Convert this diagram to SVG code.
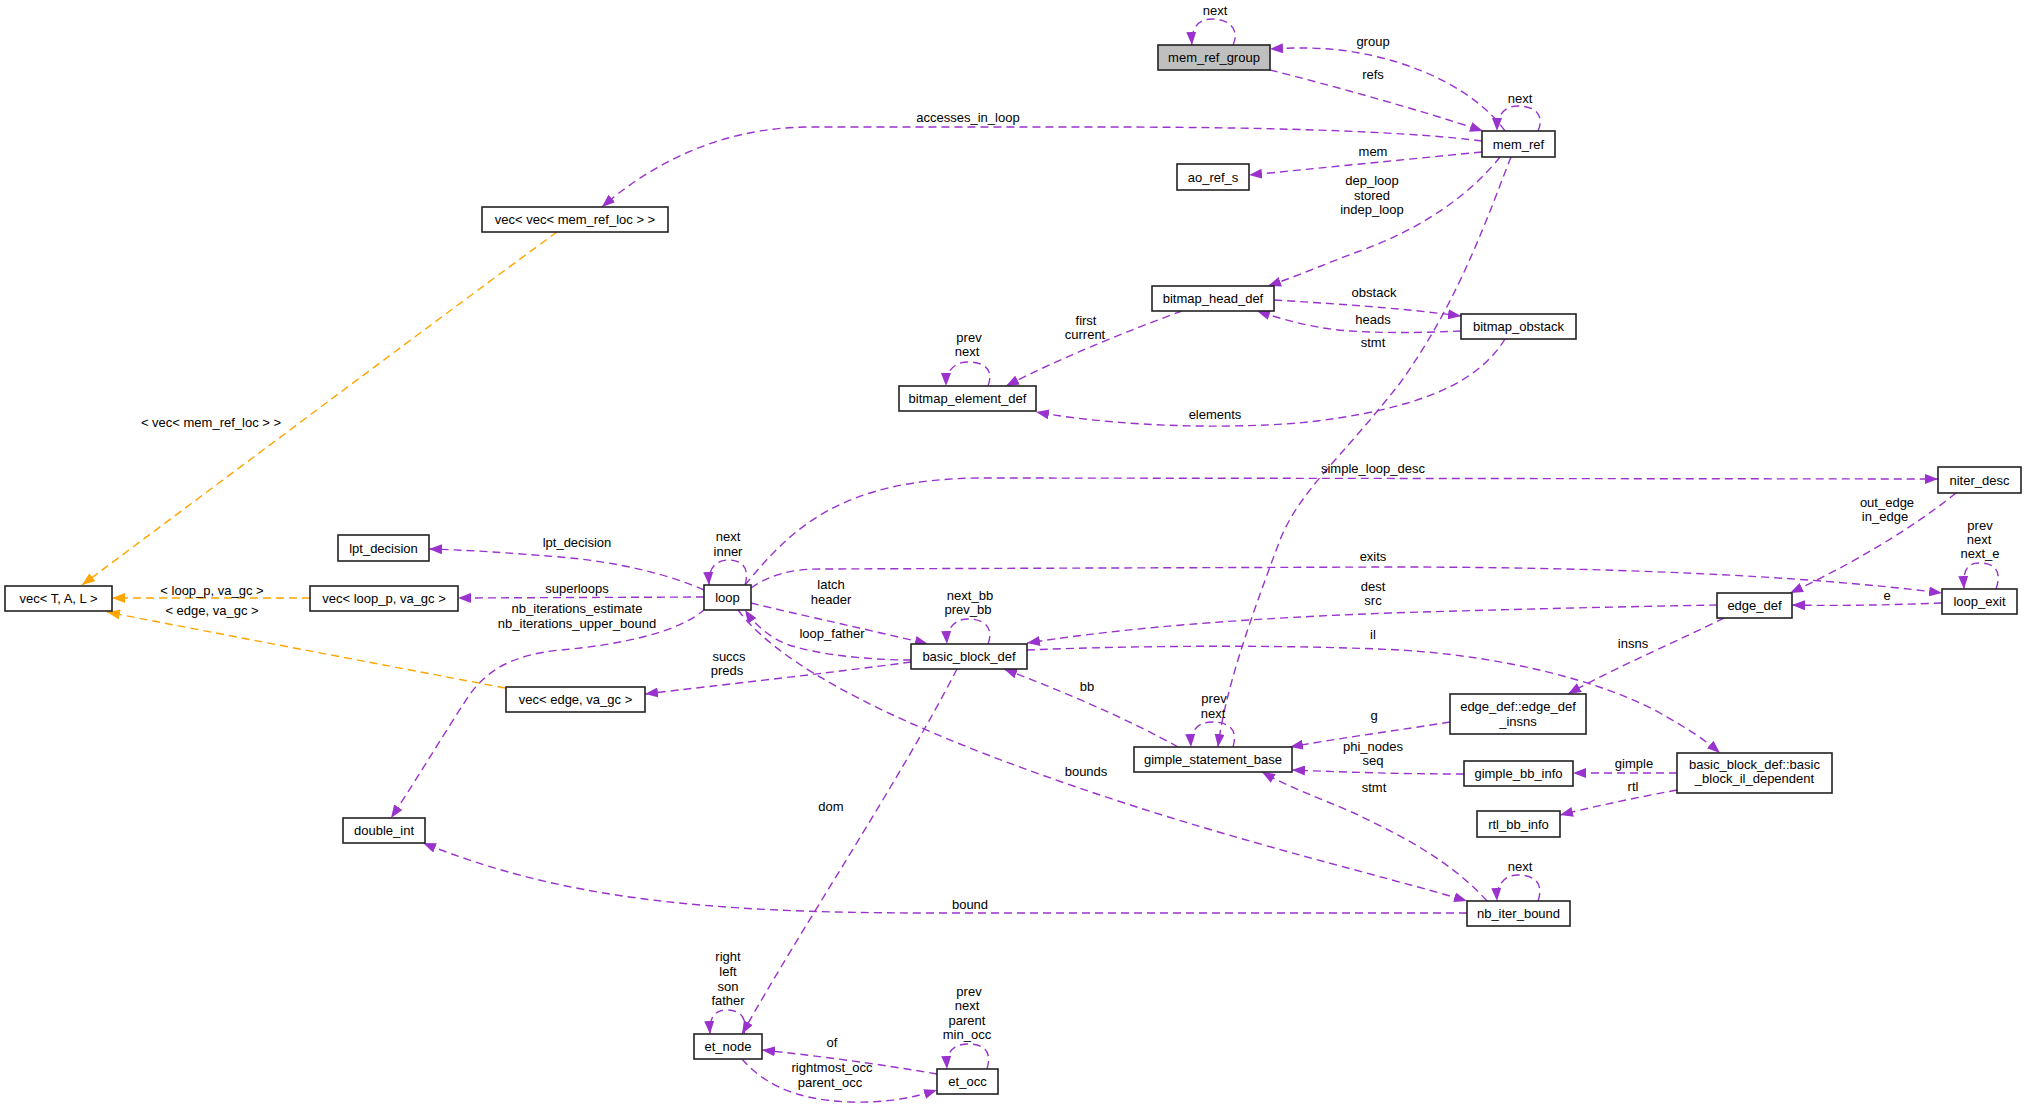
<svg xmlns="http://www.w3.org/2000/svg" width="2027" height="1107" viewBox="0 0 2027 1107">
<defs>
<style>
.node rect{fill:#fff;stroke:#222;stroke-width:1.6}
text{font-family:"Liberation Sans",Arial,Helvetica,sans-serif;font-size:13px;text-anchor:middle;fill:#000}
.e{fill:none;stroke:#9a32cd;stroke-width:1.4;stroke-dasharray:8,5;marker-end:url(#pa)}
.o{fill:none;stroke:#ffa500;stroke-width:1.4;stroke-dasharray:8,5;marker-end:url(#oa)}
</style>
<marker id="pa" viewBox="0 0 13 10" refX="13" refY="5" markerWidth="13" markerHeight="10" orient="auto" markerUnits="userSpaceOnUse"><path d="M0,0 L13,5 L0,10 z" fill="#9a32cd"/></marker>
<marker id="oa" viewBox="0 0 13 10" refX="13" refY="5" markerWidth="13" markerHeight="10" orient="auto" markerUnits="userSpaceOnUse"><path d="M0,0 L13,5 L0,10 z" fill="#ffa500"/></marker>
</defs>
<rect width="2027" height="1107" fill="#fff"/>
<g id="connectors">
<path class="e" d="M1233,45 C1240,30 1230,19 1212,19 C1198,19 1191,28 1192,45"/><text x="1215" y="15">next</text>
<path class="e" d="M1505,131 C1480,95 1420,60 1340,50 C1310,47 1290,48 1270,49"/><text x="1373" y="46">group</text>
<path class="e" d="M1270,70 C1330,85 1420,110 1483,131"/><text x="1373" y="79">refs</text>
<path class="e" d="M1538,131 C1545,115 1535,106 1518,106 C1505,106 1497,114 1497,131"/><text x="1520" y="103">next</text>
<path class="e" d="M1482,141 C1420,133 1300,127 1100,127 L810,127 C720,127 650,165 602,207"/><text x="968" y="122">accesses_in_loop</text>
<path class="e" d="M1482,152 C1400,160 1320,168 1249,175"/><text x="1373" y="156">mem</text>
<path class="e" d="M1500,157 C1470,195 1420,230 1357,252 C1330,262 1300,275 1268,286"/><text x="1372" y="185">dep_loop</text><text x="1372" y="200">stored</text><text x="1372" y="214">indep_loop</text>
<path class="e" d="M1511,157 C1490,210 1460,300 1400,383 C1340,460 1300,490 1280,540 C1250,620 1225,690 1218,747"/><text x="1373" y="347">stmt</text>
<path class="e" d="M1274,300 C1340,304 1400,308 1461,316"/><text x="1374" y="297">obstack</text>
<path class="e" d="M1461,331 C1420,333 1380,333 1350,331 C1320,329 1290,322 1257,311"/><text x="1373" y="324">heads</text>
<path class="e" d="M1182,311 C1130,330 1060,358 1006,386"/><text x="1086" y="325">first</text><text x="1085" y="339">current</text>
<path class="e" d="M988,386 C994,370 985,362 968,362 C955,362 946,370 946,386"/><text x="969" y="342">prev</text><text x="967" y="356">next</text>
<path class="e" d="M1505,339 C1480,380 1430,400 1367,413 C1320,422 1290,425 1230,426 C1150,427 1080,420 1036,412"/><text x="1215" y="419">elements</text>
<path class="e" d="M745,585 C790,530 840,479 980,478 L1938,479"/><text x="1373" y="473">simple_loop_desc</text>
<path class="e" d="M1956,493 C1910,530 1850,565 1790,593"/><text x="1887" y="507">out_edge</text><text x="1885" y="521">in_edge</text>
<path class="e" d="M1996,589 C2002,572 1996,563 1979,563 C1966,563 1963,572 1964,589"/><text x="1980" y="530">prev</text><text x="1979" y="544">next</text><text x="1980" y="558">next_e</text>
<path class="e" d="M1942,603 C1890,605 1840,606 1792,605"/><text x="1887" y="600">e</text>
<path class="e" d="M751,588 C770,575 790,569 820,569 L1390,567 C1600,567 1800,575 1942,593"/><text x="1373" y="561">exits</text>
<path class="e" d="M1717,605 C1600,607 1450,611 1390,613 C1200,620 1100,632 1027,643"/><text x="1373" y="591">dest</text><text x="1373" y="605">src</text>
<path class="e" d="M1027,650 C1150,645 1300,645 1400,650 C1500,656 1600,680 1660,713 C1690,730 1705,740 1720,753"/><text x="1373" y="639">il</text>
<path class="e" d="M988,644 C994,628 985,619 968,619 C955,619 946,628 947,644"/><text x="970" y="600">next_bb</text><text x="968" y="614">prev_bb</text>
<path class="e" d="M745,585 C750,568 742,560 729,560 C716,560 708,568 709,585"/><text x="728" y="541">next</text><text x="728" y="556">inner</text>
<path class="e" d="M751,603 C800,615 870,630 928,644"/><text x="831" y="589">latch</text><text x="831" y="604">header</text>
<path class="e" d="M911,660 C870,660 820,655 789,645 C770,638 755,625 745,610"/><text x="832" y="638">loop_father</text>
<path class="e" d="M704,590 C670,575 620,562 560,557 C510,553 470,550 429,549"/><text x="577" y="547">lpt_decision</text>
<path class="e" d="M704,597 L458,598"/><text x="577" y="593">superloops</text>
<path class="e" d="M705,609 C680,632 620,645 560,650 C510,655 485,672 468,697 C440,740 410,790 391,818"/><text x="577" y="613">nb_iterations_estimate</text><text x="577" y="628">nb_iterations_upper_bound</text>
<path class="e" d="M911,662 C830,673 720,685 645,694"/><text x="729" y="661">succs</text><text x="727" y="675">preds</text>
<path class="o" d="M310,598 L112,598"/><text x="212" y="595">&lt; loop_p, va_gc &gt;</text>
<path class="o" d="M505,688 C400,668 230,636 107,612"/><text x="212" y="615">&lt; edge, va_gc &gt;</text>
<path class="o" d="M557,232 C450,310 250,460 82,585"/><text x="211" y="427">&lt; vec&lt; mem_ref_loc &gt; &gt;</text>
<path class="e" d="M957,669 C900,780 800,930 742,1034"/><text x="831" y="811">dom</text>
<path class="e" d="M738,610 C790,680 950,745 1100,795 C1250,845 1380,875 1467,901"/><text x="1086" y="776">bounds</text>
<path class="e" d="M1467,913 L930,913 C700,913 560,898 423,843"/><text x="970" y="909">bound</text>
<path class="e" d="M1538,901 C1544,884 1535,875 1518,875 C1505,875 1496,884 1497,901"/><text x="1520" y="871">next</text>
<path class="e" d="M1487,901 C1450,860 1400,835 1354,813 C1320,798 1290,788 1262,772"/><text x="1374" y="792">stmt</text>
<path class="e" d="M1450,722 C1400,730 1340,738 1290,747"/><text x="1374" y="720">g</text>
<path class="e" d="M1464,774 C1400,774 1340,772 1292,770"/><text x="1373" y="751">phi_nodes</text><text x="1373" y="765">seq</text>
<path class="e" d="M1724,618 C1680,640 1610,670 1568,694"/><text x="1633" y="648">insns</text>
<path class="e" d="M1677,773 L1573,773"/><text x="1634" y="768">gimple</text>
<path class="e" d="M1677,790 C1640,797 1600,805 1560,815"/><text x="1633" y="791">rtl</text>
<path class="e" d="M1178,747 C1130,720 1060,690 1004,669"/><text x="1087" y="691">bb</text>
<path class="e" d="M1233,747 C1238,730 1230,722 1212,722 C1198,722 1190,730 1191,747"/><text x="1214" y="703">prev</text><text x="1213" y="718">next</text>
<path class="e" d="M744,1034 C748,1018 740,1010 727,1010 C714,1010 709,1018 710,1034"/><text x="728" y="961">right</text><text x="728" y="976">left</text><text x="728" y="990.5">son</text><text x="728" y="1005">father</text>
<path class="e" d="M937,1074 C880,1064 810,1055 762,1050"/><text x="832" y="1047">of</text>
<path class="e" d="M742,1059 C760,1080 790,1100 850,1102 C890,1103 915,1097 937,1090"/><text x="832" y="1072">rightmost_occ</text><text x="830" y="1087">parent_occ</text>
<path class="e" d="M987,1069 C992,1052 985,1044 968,1044 C953,1044 946,1052 947,1069"/><text x="969" y="996">prev</text><text x="967" y="1010">next</text><text x="967" y="1025">parent</text><text x="967" y="1039">min_occ</text>
</g>
<g id="mem_ref_group" class="node"><rect x="1158" y="45" width="112" height="25" style="fill:#bfbfbf"/><text x="1214" y="62">mem_ref_group</text></g>
<g id="mem_ref" class="node"><rect x="1482" y="131" width="73" height="26"/><text x="1518.5" y="148.5">mem_ref</text></g>
<g id="ao_ref_s" class="node"><rect x="1177" y="164" width="72" height="26"/><text x="1213" y="181.5">ao_ref_s</text></g>
<g id="vec_vec_mem_ref_loc" class="node"><rect x="482" y="207" width="186" height="25"/><text x="575" y="224">vec&lt; vec&lt; mem_ref_loc &gt; &gt;</text></g>
<g id="bitmap_head_def" class="node"><rect x="1152" y="286" width="122" height="25"/><text x="1213" y="303">bitmap_head_def</text></g>
<g id="bitmap_obstack" class="node"><rect x="1461" y="314" width="115" height="25"/><text x="1518.5" y="331">bitmap_obstack</text></g>
<g id="bitmap_element_def" class="node"><rect x="899" y="386" width="137" height="25"/><text x="967.5" y="403">bitmap_element_def</text></g>
<g id="vec_T_A_L" class="node"><rect x="5" y="586" width="107" height="25"/><text x="58.5" y="603">vec&lt; T, A, L &gt;</text></g>
<g id="lpt_decision" class="node"><rect x="338" y="535" width="91" height="26"/><text x="383.5" y="552.5">lpt_decision</text></g>
<g id="vec_loop_p_va_gc" class="node"><rect x="310" y="586" width="148" height="25"/><text x="384" y="603">vec&lt; loop_p, va_gc &gt;</text></g>
<g id="loop" class="node"><rect x="704" y="585" width="47" height="25"/><text x="727.5" y="602">loop</text></g>
<g id="basic_block_def" class="node"><rect x="911" y="644" width="116" height="25"/><text x="969" y="661">basic_block_def</text></g>
<g id="vec_edge_va_gc" class="node"><rect x="506" y="687" width="139" height="25"/><text x="575.5" y="704">vec&lt; edge, va_gc &gt;</text></g>
<g id="double_int" class="node"><rect x="343" y="818" width="82" height="25"/><text x="384" y="835">double_int</text></g>
<g id="gimple_statement_base" class="node"><rect x="1134" y="747" width="158" height="25"/><text x="1213" y="764">gimple_statement_base</text></g>
<g id="niter_desc" class="node"><rect x="1938" y="467" width="83" height="26"/><text x="1979.5" y="484.5">niter_desc</text></g>
<g id="edge_def" class="node"><rect x="1717" y="593" width="75" height="25"/><text x="1754.5" y="610">edge_def</text></g>
<g id="loop_exit" class="node"><rect x="1942" y="589" width="75" height="25"/><text x="1979.5" y="606">loop_exit</text></g>
<g id="edge_def_insns" class="node"><rect x="1450" y="694" width="136" height="40"/><text x="1518" y="711">edge_def::edge_def</text><text x="1518" y="725.5">_insns</text></g>
<g id="gimple_bb_info" class="node"><rect x="1464" y="761" width="109" height="25"/><text x="1518.5" y="778">gimple_bb_info</text></g>
<g id="basic_block_il_dependent" class="node"><rect x="1677" y="753" width="155" height="40"/><text x="1754.5" y="768.5">basic_block_def::basic</text><text x="1754.5" y="783">_block_il_dependent</text></g>
<g id="rtl_bb_info" class="node"><rect x="1477" y="811" width="83" height="26"/><text x="1518.5" y="828.5">rtl_bb_info</text></g>
<g id="nb_iter_bound" class="node"><rect x="1467" y="901" width="103" height="25"/><text x="1518.5" y="918">nb_iter_bound</text></g>
<g id="et_node" class="node"><rect x="694" y="1034" width="68" height="25"/><text x="728" y="1051">et_node</text></g>
<g id="et_occ" class="node"><rect x="937" y="1069" width="61" height="25"/><text x="967.5" y="1086">et_occ</text></g>
</svg>
